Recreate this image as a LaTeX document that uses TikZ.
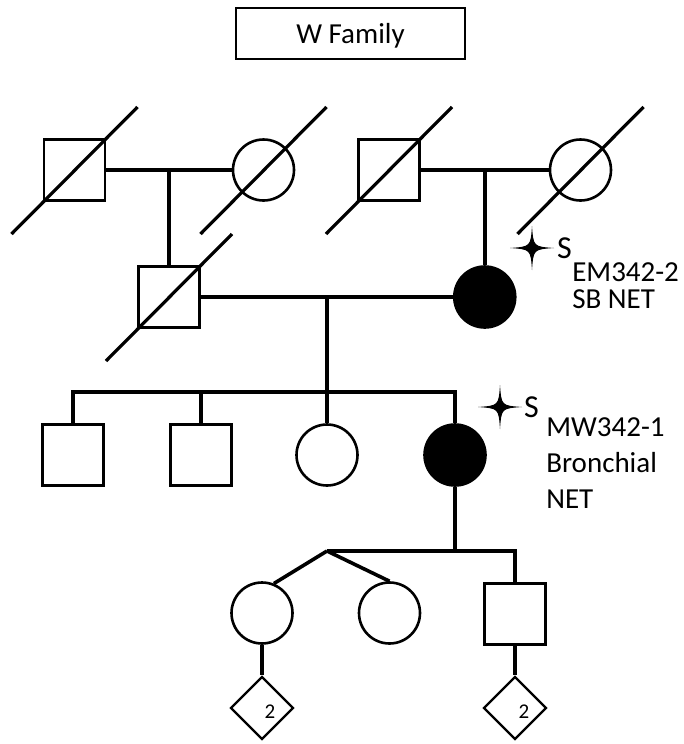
\documentclass[tikz,border=0pt]{standalone}
\usepackage{fontspec}
\setmainfont{Carlito}
\usetikzlibrary{positioning,shapes.geometric}
\tikzset{
male/.style={
  rectangle,
  draw=black,
  line width=2.6pt,
  minimum size=61pt,
  inner sep=0pt
  },
female/.style={
  circle,
  draw=black,
  line width=2.6pt,
  minimum size=61pt,
  inner sep=0pt
  },
affected/.style={fill=black},
unknown/.style={
  diamond,
  draw=black,
  line width=2.4pt,
  minimum size=63pt,
  inner sep=0pt
  },
lbl/.style={inner sep=0pt, font=\fontsize{29}{35}\selectfont},
sampleS/.style={inner sep=0pt, font=\fontsize{32}{36}\selectfont},
titlebox/.style={
  rectangle,
  draw=black,
  line width=1.4pt,
  minimum width=229pt,
  minimum height=51pt,
  text depth=0pt,
  font=\fontsize{29}{35}\selectfont
  },
link/.style={line width=3.6pt},
deadline/.style={line width=3.2pt}
}
\newcommand{\sparkle}[1]{%
  \fill[shift={(#1)}] (0,22) .. controls (1.5,1.5) .. (22,0)
    .. controls (1.5,-1.5) .. (0,-22)
    .. controls (-1.5,-1.5) .. (-22,0)
    .. controls (-1.5,1.5) .. (0,22);}

\begin{document}
\begin{tikzpicture}[x=1pt,y=1pt]

\useasboundingbox (0,0) rectangle (684,-744);

\node[titlebox] (title) at (350.5,-33.5) {W Family};

\node[male] (i1) at (74.5,-170) {};
\node[female] (i2) at (263.5,-170) {};
\node[male] (i3) at (389,-170) {};
\node[female] (i4) at (580.5,-170) {};

\node[male] (ii1) at (169,-297) {};
\node[female,affected] (ii2) at (484.75,-297) {};

\node[male] (iii1) at (73,-455) {};
\node[male] (iii2) at (201,-455) {};
\node[female] (iii3) at (327,-455) {};
\node[female,affected] (iii4) at (455,-455) {};

\node[female] (iv1) at (262,-613) {};
\node[female] (iv2) at (389.5,-613) {};
\node[male] (iv3) at (515,-614) {};

\node[unknown] (d1) at (262,-708) {};
\node[unknown] (d2) at (515,-708) {};
\node[font=\fontsize{21}{25}\selectfont, inner sep=0pt] (n1)
  at ([shift={(8,-3.5)}]d1.center) {2};
\node[font=\fontsize{21}{25}\selectfont, inner sep=0pt] (n2)
  at ([shift={(9,-3.5)}]d2.center) {2};

\coordinate (sib) at (327,-392);
\coordinate (twin) at (327,-551);

\begin{scope}
\draw[link]
  (i1) -- coordinate (m1) (i2);
\draw[link]
  (i3) -- coordinate (m3) (i4);
\draw[link]
  (m1) -- (m1 |- ii1.north);
\draw[link]
  (m3) -- (m3 |- ii2.north);

\draw[link]
  (ii1) -- coordinate (m2) (ii2);
\draw[link]
  (m2) -- (m2 |- iii3.north);
\draw[link]
  (iii1.north) |- (sib) -| (iii4.north);
\draw[link]
  (iii2.north) -- (iii2 |- sib);

\draw[link]
  (iii4) -- (iii4 |- twin);
\draw[link]
  (twin) -| (iv3);
\draw[link]
  (twin) -- (iv1.68);
\draw[link]
  (twin) -- (iv2.north);

\draw[link]
  (iv1) -- (d1);
\draw[link]
  (iv3) -- (d2);
\end{scope}

\draw[deadline]
  ([shift={(-63,-64)}]i1.center) -- ([shift={(63,63)}]i1.center);
\draw[deadline]
  ([shift={(-63,-64)}]i2.center) -- ([shift={(63,63)}]i2.center);
\draw[deadline]
  ([shift={(-63,-64)}]i3.center) -- ([shift={(63,63)}]i3.center);
\draw[deadline]
  ([shift={(-63,-64)}]i4.center) -- ([shift={(63,63)}]i4.center);
\draw[deadline]
  ([shift={(-63,-64)}]ii1.center) -- ([shift={(63,63)}]ii1.center);

\coordinate (st1) at (532,-248);
\sparkle{st1}
\node[sampleS, right=25pt of st1] (s1) {S};
\node[lbl, anchor=north west, align=left, font=\fontsize{29}{27}\selectfont]
  (em) at ([yshift=-4pt]s1.south east) {EM342-2\\SB NET};

\coordinate (st2) at (500,-407);
\sparkle{st2}
\node[sampleS, right=24pt of st2] (s2) {S};
\node[lbl, anchor=north west, align=left, font=\fontsize{29}{36}\selectfont]
  (mw) at ([xshift=7pt]s2.south east) {MW342-1\\Bronchial\\NET};

\end{tikzpicture}
\end{document}
